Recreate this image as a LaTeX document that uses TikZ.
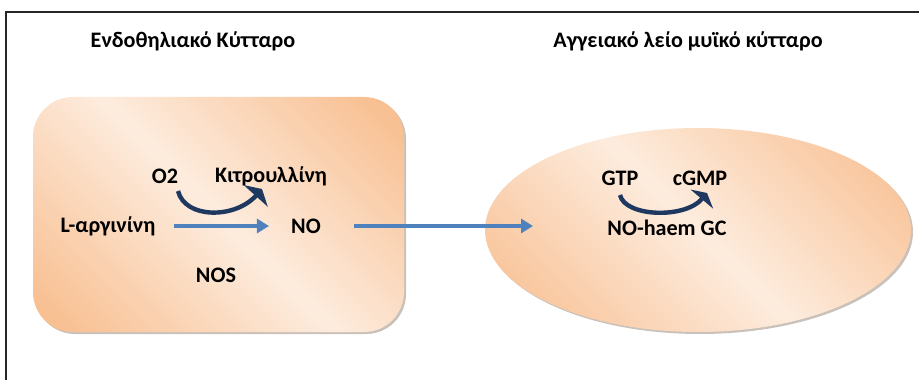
\documentclass[tikz,border=0pt]{standalone}
\usepackage{fontspec}
\setmainfont{Carlito}
\usetikzlibrary{arrows.meta,shadows}

\definecolor{celldark}{RGB}{248,190,143}
\definecolor{celllight}{RGB}{253,236,222}
\definecolor{flowblue}{RGB}{79,129,189}
\definecolor{turnnavy}{RGB}{31,56,96}

\pgfdeclarehorizontalshading{cellfill}{100bp}{color(0bp)=(celldark); color(17bp)=(celldark); color(50bp)=(celllight); color(83bp)=(celldark); color(100bp)=(celldark)}

\begin{document}
\begin{tikzpicture}[x=0.75pt,y=0.75pt,
    lbl/.style={inner sep=0pt,font=\fontsize{16.6}{19}\selectfont\bfseries},
    cell/.style={shading=cellfill,shading angle=45,
        drop shadow={shadow xshift=1.5pt,shadow yshift=-1.5pt,fill=black!60!brown,opacity=.3}},
    flow/.style={flowblue,line width=2.8pt,-{Triangle[length=9pt,width=10.5pt]}},
    turn/.style={turnnavy,line width=3.3pt,-{Triangle[length=7pt,width=24pt]}}]
    \useasboundingbox (0,0) rectangle (919,379);
    \clip (0,0) rectangle (919,379);
    % outer frame
    \draw[line width=1.2pt,black!85] (6,-10) |- (930,367);

    % the two cells
    \path[cell,rounded corners=30pt] (33,47) rectangle (404,282);
    \path[cell] (698,149) ellipse [x radius=213,y radius=102];

    % titles
    \node[lbl] (endo) at (193,338) {Ενδοθηλιακό Κύτταρο};
    \node[lbl] (smooth) at (688,338) {Αγγειακό λείο μυϊκό κύτταρο};

    % endothelial cell
    \node[lbl] (o2) at (165,203) {O2};
    \node[lbl] (citr) at (271,203) {Κιτρουλλίνη};
    \node[lbl] (larg) at (108,153) {L-αργινίνη};
    \node[lbl] (no) at (306,153) {NO};
    \node[lbl] (nos) at (216,104) {NOS};
    \coordinate (o2out) at (178,188);
    \coordinate (citin) at (262,190);
    \draw[turn] (o2out) .. controls (185,160) and (235,160) .. (citin);
    \draw[flow,shorten <=13.5pt,shorten >=16.5pt] (larg.east) -- (no.west);

    % smooth muscle cell
    \node[lbl] (gtp) at (620,201) {GTP};
    \node[lbl] (cgmp) at (700,201) {cGMP};
    \node[lbl] (nohaem) at (667,151) {NO-haem GC};
    \coordinate (gtpout) at (620,184);
    \coordinate (cgmpin) at (707,186);
    \draw[turn,-{Triangle[length=6pt,width=22pt]}] (gtpout) .. controls (625,162) and (685,160) .. (cgmpin);

    % NO diffuses into the muscle cell
    \coordinate (entry) at (533,153);
    \draw[flow,shorten <=25pt] (no.east) -- (entry);
\end{tikzpicture}
\end{document}
